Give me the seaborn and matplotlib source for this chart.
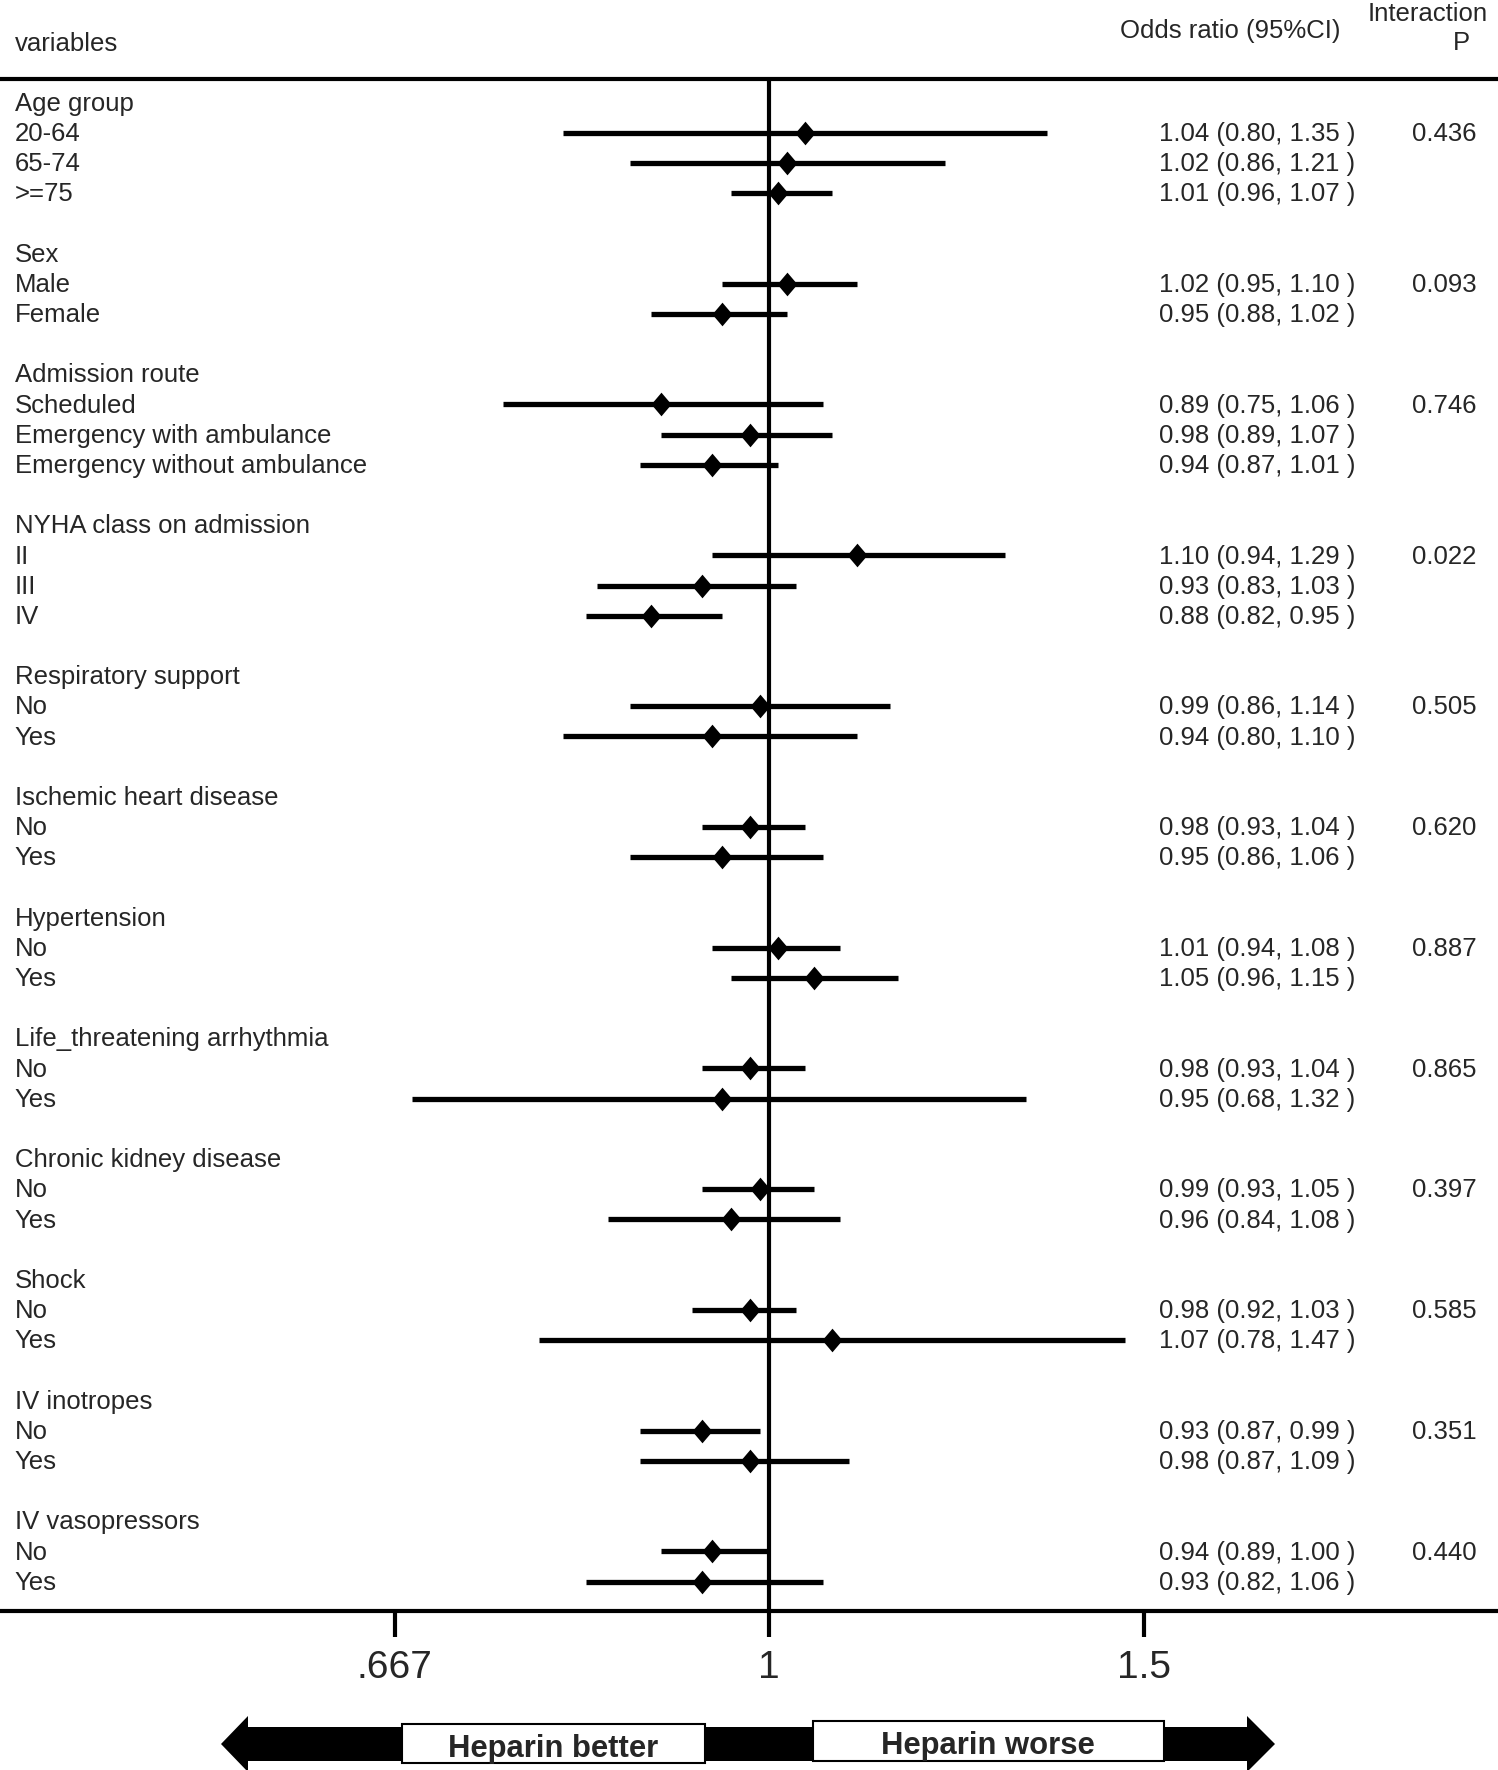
import matplotlib
matplotlib.use("Agg")
import matplotlib.pyplot as plt
import seaborn as sns
import numpy as np
import pandas as pd
from matplotlib.path import Path
from matplotlib.patches import Polygon, Rectangle
from matplotlib.ticker import NullLocator

# Subgroup data
groups = ["Age group", "Sex", "Admission route", "NYHA class on admission",
          "Respiratory support", "Ischemic heart disease", "Hypertension",
          "Life_threatening arrhythmia", "Chronic kidney disease", "Shock",
          "IV inotropes", "IV vasopressors"]
subgroups = [["20-64", "65-74", ">=75"],
             ["Male", "Female"],
             ["Scheduled", "Emergency with ambulance", "Emergency without ambulance"],
             ["II", "III", "IV"],
             ["No", "Yes"], ["No", "Yes"], ["No", "Yes"], ["No", "Yes"],
             ["No", "Yes"], ["No", "Yes"], ["No", "Yes"], ["No", "Yes"]]
or_est = [1.04, 1.02, 1.01, 1.02, 0.95, 0.89, 0.98, 0.94, 1.10, 0.93, 0.88,
          0.99, 0.94, 0.98, 0.95, 1.01, 1.05, 0.98, 0.95, 0.99, 0.96,
          0.98, 1.07, 0.93, 0.98, 0.94, 0.93]
ci_low = [0.80, 0.86, 0.96, 0.95, 0.88, 0.75, 0.89, 0.87, 0.94, 0.83, 0.82,
          0.86, 0.80, 0.93, 0.86, 0.94, 0.96, 0.93, 0.68, 0.93, 0.84,
          0.92, 0.78, 0.87, 0.87, 0.89, 0.82]
ci_high = [1.35, 1.21, 1.07, 1.10, 1.02, 1.06, 1.07, 1.01, 1.29, 1.03, 0.95,
           1.14, 1.10, 1.04, 1.06, 1.08, 1.15, 1.04, 1.32, 1.05, 1.08,
           1.03, 1.47, 0.99, 1.09, 1.00, 1.06]
p_interaction = ["0.436", "0.093", "0.746", "0.022", "0.505", "0.620",
                 "0.887", "0.865", "0.397", "0.585", "0.351", "0.440"]
tick_values = [0.667, 1, 1.5]
tick_labels = [".667", "1", "1.5"]

# Row layout: group header, its subgroups, then a blank row
header_rows, sub_rows, sub_labels, p_rows = [], [], [], []
r = 0
for g, subs in zip(groups, subgroups):
    header_rows.append(r)
    r += 1
    p_rows.append(r)
    for s in subs:
        sub_rows.append(r)
        sub_labels.append(s)
        r += 1
    r += 1

df = pd.DataFrame({"row": sub_rows, "label": sub_labels, "or_est": or_est,
                   "lo": ci_low, "hi": ci_high})

sns.set_style("white")
plt.rcParams["font.family"] = ["Liberation Sans", "DejaVu Sans"]

W, H = 1498, 1770
fig = plt.figure(figsize=(W / 100, H / 100), dpi=100)
ax = fig.add_axes([0, 1 - 1610.5 / H, 1, (1610.5 - 78.5) / H])
ax.set_xscale("log")

# CI lines, reference line, diamonds
ax.hlines(df["row"], df["lo"], df["hi"], color="black", lw=3.8, zorder=2)
ax.axvline(1, color="black", lw=3, zorder=1)
diamond = Path([(0, 1), (0.85, 0), (0, -1), (-0.85, 0), (0, 1)],
               [Path.MOVETO, Path.LINETO, Path.LINETO, Path.LINETO, Path.CLOSEPOLY])
sns.scatterplot(data=df, x="or_est", y="row", marker=diamond, s=290,
                color="black", edgecolor="black", linewidth=0, legend=False,
                ax=ax, zorder=3)

ax.set_xlim(0.4354, 2.199)
ax.set_ylim(49.96, -0.80)
ax.set_xticks(tick_values)
ax.set_xticklabels(tick_labels)
ax.xaxis.set_minor_locator(NullLocator())
ax.set_yticks([])
ax.set_xlabel("")
ax.set_ylabel("")
for side in ["left", "right"]:
    ax.spines[side].set_visible(False)
for side in ["top", "bottom"]:
    ax.spines[side].set_linewidth(3)
    ax.spines[side].set_color("black")
ax.tick_params(axis="x", bottom=True, length=18.7, width=3, pad=10,
               labelsize=28, direction="out", color="black")

# Text columns
tr = ax.get_yaxis_transform()
fs = 18.5
dy = 0.04
for g, y in zip(groups, header_rows):
    ax.text(14.7 / W, y + dy, g, transform=tr, fontsize=fs, va="center", ha="left")
for _, row in df.iterrows():
    ax.text(14.7 / W, row["row"] + dy, row["label"], transform=tr, fontsize=fs,
            va="center", ha="left")
    ax.text(1159 / W, row["row"] + dy,
            f"{row['or_est']:.2f} ({row['lo']:.2f}, {row['hi']:.2f} )",
            transform=tr, fontsize=fs, va="center", ha="left")
for p, y in zip(p_interaction, p_rows):
    ax.text(1412 / W, y + dy, p, transform=tr, fontsize=fs, va="center", ha="left")

# Header
fig.text(14.7 / W, 1 - 44 / H, "variables", fontsize=fs, va="center", ha="left")
fig.text(1120 / W, 1 - 31 / H, "Odds ratio (95%CI)", fontsize=fs, va="center", ha="left")
fig.text(1428 / W, 1 - 14 / H, "Interaction", fontsize=fs, va="center", ha="center")
fig.text(1461 / W, 1 - 43 / H, "P", fontsize=fs, va="center", ha="center")

# Direction arrow at the bottom
ov = fig.add_axes([0, 0, 1, 1])
ov.set_xlim(0, W)
ov.set_ylim(H, 0)
ov.set_axis_off()
arrow = [(221, 1744), (248, 1716), (248, 1727), (1247, 1727), (1247, 1716),
         (1275, 1744), (1247, 1772), (1247, 1761), (248, 1761), (248, 1772)]
ov.add_patch(Polygon(arrow, closed=True, facecolor="black", edgecolor="none"))
ov.add_patch(Rectangle((402, 1724), 303, 39, facecolor="white",
                       edgecolor="black", lw=1.5))
ov.add_patch(Rectangle((813, 1721), 351, 40, facecolor="white",
                       edgecolor="black", lw=1.5))
ov.text(553, 1749, "Heparin better", fontsize=22.3, fontweight="bold",
        ha="center", va="center")
ov.text(988, 1746, "Heparin worse", fontsize=22.3, fontweight="bold",
        ha="center", va="center")

fig.savefig("out.png", dpi=100)
